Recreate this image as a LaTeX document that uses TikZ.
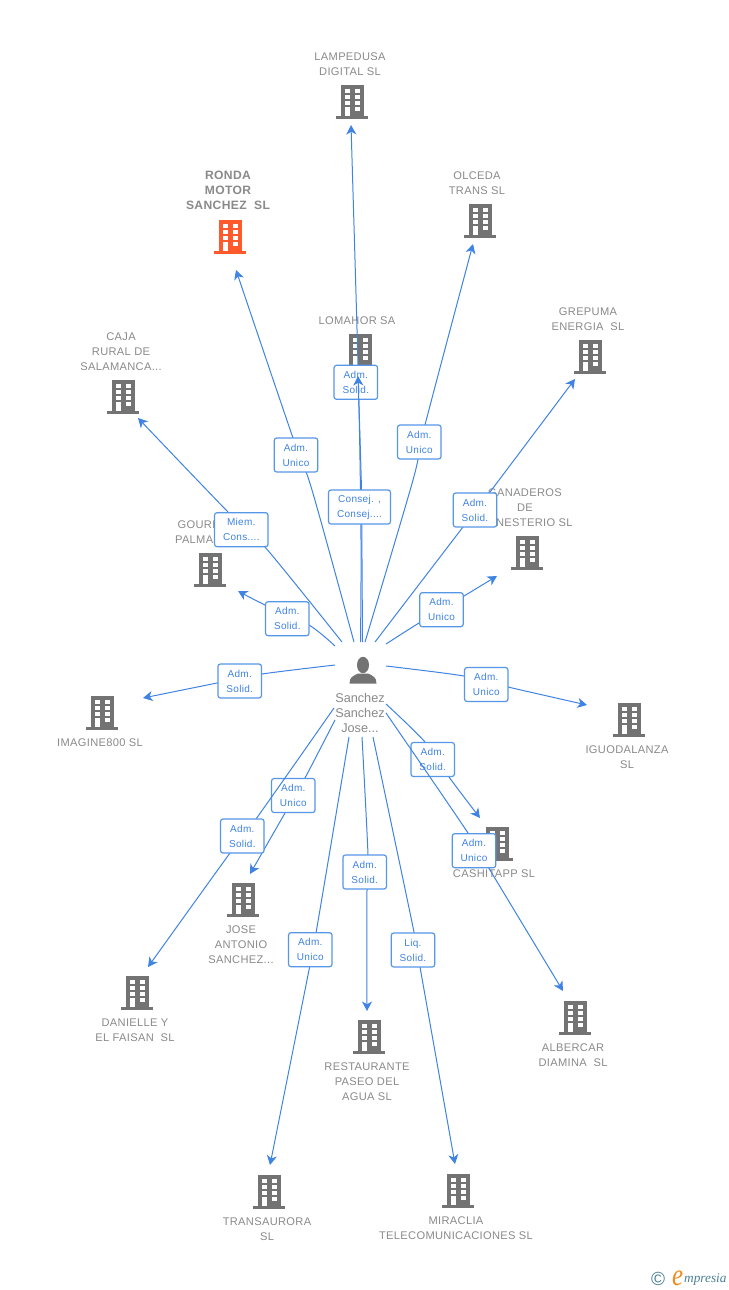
\documentclass[tikz,border=0pt]{standalone}
\usepackage{fontspec}
\setmainfont{Liberation Sans}
\newfontfamily\lblfont[LetterSpace=3]{Liberation Sans}
\newfontfamily\logofont{Liberation Serif}
\usetikzlibrary{arrows.meta}
\definecolor{edgeblue}{HTML}{3F83E3}
\definecolor{boxblue}{HTML}{5797E8}
\definecolor{boxtext}{HTML}{3F83E3}
\definecolor{txtgray}{HTML}{8A8A8A}
\definecolor{icongray}{HTML}{737373}
\definecolor{hotorange}{HTML}{FF5A2B}
\definecolor{logoteal}{HTML}{4C8096}
\definecolor{logoorange}{HTML}{F08A1D}
\tikzset{
  edge/.style={draw=edgeblue,line width=1pt,-{Stealth[length=9.5pt,width=10pt,inset=2.8pt]}},
  lbox/.style={draw=boxblue,line width=1.2pt,rounded corners=2.5pt,fill=white,minimum width=43.5pt,minimum height=34pt,inner sep=0pt,align=center,text=boxtext,font=\lblfont\fontsize{10}{15}\selectfont},
  cname/.style={align=center,text=txtgray,inner sep=0pt,yshift=-0.8pt,font=\lblfont\fontsize{11.1}{15}\selectfont},
  hname/.style={align=center,text=txtgray,inner sep=0pt,yshift=-0.8pt,font=\lblfont\bfseries\fontsize{12.1}{15}\selectfont},
  pname/.style={align=center,text=txtgray,inner sep=0pt,font=\fontsize{12.7}{15}\selectfont},
  bldg/.pic={
    \fill[pic actions] (-11.5,-17) rectangle (11.5,15);
    \fill[pic actions] (-16,14) rectangle (16,17);
    \foreach \yy in {-13,-7,-1}{
      \fill[white] (-7.5,\yy) rectangle (-2.5,\yy+4);
      \fill[white] (2.5,\yy) rectangle (7.5,\yy+4);
    }
    \fill[white] (2.5,5) rectangle (7.5,9);
    \fill[white] (-7.5,5) rectangle (-2.5,14);
  },
  bgray/.style={fill=icongray},
  bhot/.style={fill=hotorange},
}
% name, start, point after start, point before end, end, box centre, text
\newcommand{\conn}[7]{%
  \coordinate (s#1) at (#2);
  \coordinate (u#1) at (#3);
  \coordinate (v#1) at (#4);
  \coordinate (e#1) at (#5);
  \draw[edge] plot[smooth,tension=0.5] coordinates {(s#1) (u#1) (v#1) (e#1)};
  \node[lbox] (b#1) at (#6) {#7};
}
\begin{document}
\begin{tikzpicture}[x=1pt,y=-1pt]
\useasboundingbox[fill=white] (0,0) rectangle (728,1290);
% buildings
\pic[bgray] at (352,102) {bldg};
\pic[bhot] at (230,237) {bldg};
\pic[bgray] at (480,221) {bldg};
\pic[bgray] at (360,351) {bldg};
\pic[bgray] at (590,357) {bldg};
\pic[bgray] at (123,397) {bldg};
\pic[bgray] at (527,553) {bldg};
\pic[bgray] at (210,570) {bldg};
\pic[bgray] at (102,713) {bldg};
\pic[bgray] at (629,720) {bldg};
\pic[bgray] at (497,844) {bldg};
\pic[bgray] at (243,900) {bldg};
\pic[bgray] at (137,993) {bldg};
\pic[bgray] at (369,1037) {bldg};
\pic[bgray] at (575,1018) {bldg};
\pic[bgray] at (269,1192) {bldg};
\pic[bgray] at (458,1191) {bldg};
% names
\node[cname] (n1) at (350,63.5) {LAMPEDUSA\\DIGITAL SL};
\node[hname] (n2) at (228,190) {RONDA\\MOTOR\\SANCHEZ\ \ SL};
\node[cname] (n3) at (477,182.5) {OLCEDA\\TRANS SL};
\node[cname] (n4) at (357,320) {LOMAHOR SA};
\node[cname] (n5) at (588,318.5) {GREPUMA\\ENERGIA\ \ SL};
\node[cname] (n6) at (121,351) {CAJA\\RURAL DE\\SALAMANCA...};
\node[cname] (n7) at (525,507) {GANADEROS\\DE\\MONESTERIO SL};
\node[cname] (n8) at (207,531.5) {GOURMET\\PALMAR SL};
\node[cname] (n9) at (100,742) {IMAGINE800 SL};
\node[cname] (n10) at (627,756.5) {IGUODALANZA\\SL};
\node[cname] (n11) at (494,873) {CASHITAPP SL};
\node[cname] (n12) at (241,944) {JOSE\\ANTONIO\\SANCHEZ...};
\node[cname] (n13) at (135,1029.5) {DANIELLE Y\\EL FAISAN\ \ SL};
\node[cname] (n14) at (367,1081) {RESTAURANTE\\PASEO DEL\\AGUA SL};
\node[cname] (n15) at (573,1054.5) {ALBERCAR\\DIAMINA\ \ SL};
\node[cname] (n16) at (267,1228.5) {TRANSAURORA\\SL};
\node[cname] (n17) at (456,1227.5) {MIRACLIA\\TELECOMUNICACIONES SL};
% person
\fill[icongray] (363,665) ellipse (6pt and 8.2pt);
\fill[icongray] (349.5,683.5) .. controls (349.5,677) and (353,676) .. (358,673.5) -- (368,673.5) .. controls (373,676) and (376.5,677) .. (376.5,683.5) -- cycle;
\node[pname] (person) at (360,713) {Sanchez\\Sanchez\\Jose...};
% connectors
\conn{a}{360.5,642}{361,540}{358.5,385}{351,125}{355.8,382.3}{Adm.\\Solid.}
\coordinate (sb) at (362.5,642);
\coordinate (ub) at (362,560);
\coordinate (vb) at (361.5,490);
\coordinate (eb) at (358,376);
\draw[edge] plot[smooth,tension=0.5] coordinates {(sb) (ub) (vb) (eb)};
\node[lbox,minimum width=62pt] (bb) at (359.5,507) {Consej. ,\\Consej....};
\conn{c}{354,642}{312,490}{293,438}{236,270}{296,455}{Adm.\\Unico}
\conn{d}{365,642}{413,480}{425,425}{473,244}{419.3,442}{Adm.\\Unico}
\conn{e}{375,642}{463,527}{490,492}{575,379}{475,510}{Adm.\\Solid.}
\conn{f}{386,644}{419,623}{464,596}{497,576}{441.5,609.7}{Adm.\\Unico}
\conn{g}{386,666}{464,676}{508,687}{587,705}{486.3,684.5}{Adm.\\Unico}
\conn{h}{386,704}{425,742}{449,777}{480,818}{432.7,759.5}{Adm.\\Solid.}
\conn{i}{386,713}{468,833}{493,875}{563,991}{474,850.7}{Adm.\\Unico}
\conn{j}{373,737}{414,932}{420,967}{455,1164}{413,950}{Liq.\\Solid.}
\conn{k}{362,737}{368,855}{367,890}{367,1011}{364.7,872}{Adm.\\Solid.}
\conn{l}{349,737}{316,933}{307,980}{270,1165}{310.3,949.7}{Adm.\\Unico}
\conn{m}{335,720}{305,778}{285,813}{250,874}{293.3,795.5}{Adm.\\Unico}
\conn{n}{334,708}{256,819}{230,853}{148,967}{242.3,836}{Adm.\\Solid.}
\conn{o}{335,665}{262,674}{217,683}{143,698}{239.7,681}{Adm.\\Solid.}
\conn{p}{335,646}{309,625}{265,605}{238,591}{287.3,618.7}{Adm.\\Solid.}
\coordinate (sq) at (342,642);
\coordinate (uq) at (265,547);
\coordinate (vq) at (229,513);
\coordinate (eq) at (138,418);
\draw[edge] plot[smooth,tension=0.5] coordinates {(sq) (uq) (vq) (eq)};
\node[lbox,minimum width=53.5pt] (bq) at (241.3,529.7) {Miem.\\Cons....};
% logo
\node[inner sep=0pt,text=logoteal,font=\fontsize{19}{19}\selectfont] (copy) at (658,1279) {©};
\node[inner sep=0pt,xscale=.8,text=logoorange,font=\logofont\itshape\fontsize{31}{31}\selectfont] (logoe) at (677.5,1278) {e};
\node[inner sep=0pt,anchor=west,text=logoteal,font=\logofont\itshape\fontsize{13.3}{14}\selectfont] (logot) at (684,1279) {mpresia};
\end{tikzpicture}
\end{document}
